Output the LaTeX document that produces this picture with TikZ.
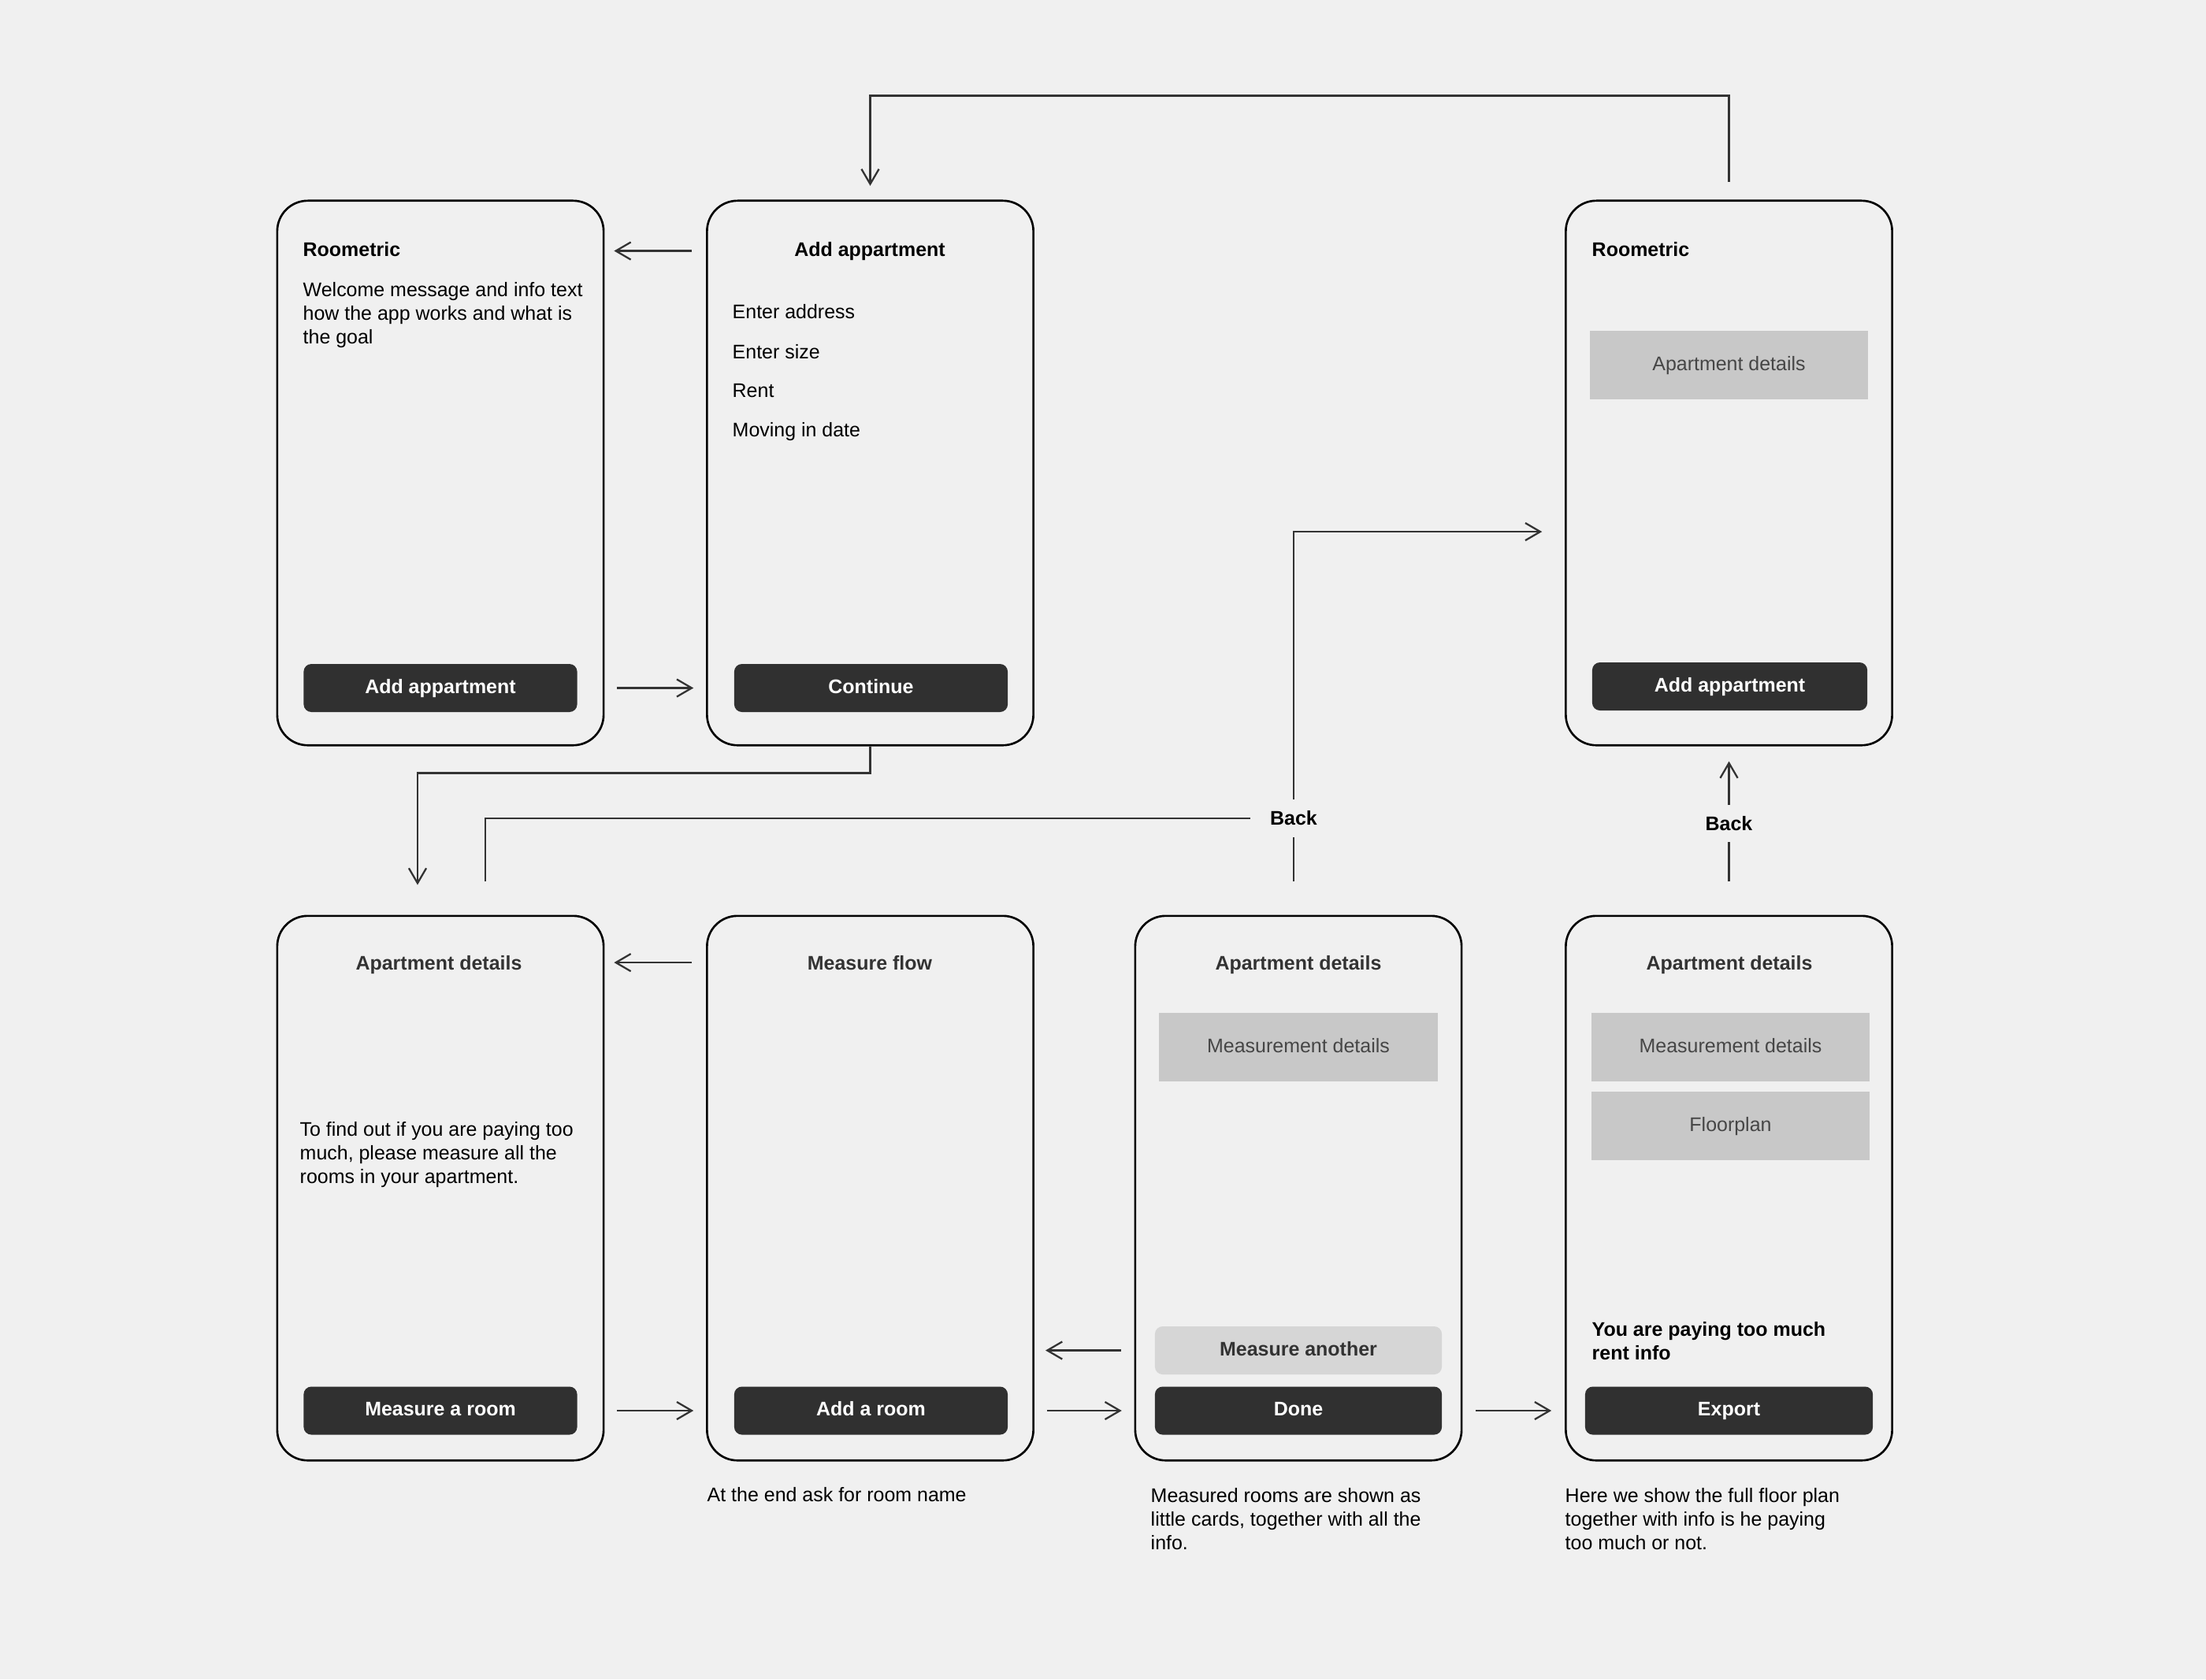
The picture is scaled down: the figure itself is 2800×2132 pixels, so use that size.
\documentclass[tikz,border=0pt]{standalone}
\usepackage{fontspec}
\setmainfont{Liberation Sans}
\usetikzlibrary{arrows.meta}
\definecolor{bg}{HTML}{F0F0F0}
\definecolor{ink}{HTML}{333333}
\definecolor{btn}{HTML}{303030}
\definecolor{card}{HTML}{C8C8C8}
\definecolor{soft}{HTML}{D6D6D6}
\definecolor{cardtext}{HTML}{464646}

\begin{document}
\begin{tikzpicture}[x=0.01cm,y=-0.01cm,
  every node/.style={inner sep=0pt,font=\fontsize{7.1}{8.5}\selectfont},
  phone/.style={draw=black,line width=0.75pt,rounded corners=11pt,minimum width=4.14cm,minimum height=6.91cm},
  hd/.style={font=\fontsize{7.1}{8.5}\selectfont\bfseries},
  btn/.style={fill=btn,text=white,rounded corners=2.8pt,minimum width=3.47cm,minimum height=0.61cm,
    text height=5.1pt,text depth=1.4pt,font=\fontsize{7.1}{8.5}\selectfont\bfseries},
  card/.style={fill=card,text=cardtext,minimum width=3.54cm,minimum height=0.87cm,text height=5.1pt,text depth=1.4pt},
  line/.style={draw=ink,line width=0.65pt},
  flow/.style={line,-{Straight Barb[length=5.4pt,width=6.3pt]}},
  back/.style={hd,inner xsep=7pt,inner ysep=4pt}]

\fill[bg] (0,0) rectangle (2800,2132);
\useasboundingbox (0,0) rectangle (2800,2132);

% top row
\node[phone] (A1) at (559,600.5) {};
\node[phone] (A2) at (1104.5,600.5) {};
\node[phone] (A3) at (2194.5,600.5) {};

\node[hd,anchor=base west] (A1t) at (384,325) {Roometric};
\node[anchor=base west,align=left] (A1x) at (384,436) {Welcome message and info text\\how the app works and what is\\the goal};
\node[btn] (A1b) at (559,873.5) {Add appartment};

\node[hd,anchor=base] (A2t) at (1104,325) {Add appartment};
\node[anchor=base west] (A2x1) at (929,404) {Enter address};
\node[anchor=base west] (A2x2) at (929,455) {Enter size};
\node[anchor=base west] (A2x3) at (929,504) {Rent};
\node[anchor=base west] (A2x4) at (929,554) {Moving in date};
\node[btn] (A2b) at (1105.5,873.5) {Continue};

\node[hd,anchor=base west] (A3t) at (2020,325) {Roometric};
\node[card,minimum width=3.53cm] (A3c) at (2194.5,463.5) {Apartment details};
\node[btn,minimum width=3.49cm] (A3b) at (2195.5,871.5) {Add appartment};

% bottom row
\node[phone] (B1) at (559,1508.5) {};
\node[phone] (B2) at (1104.5,1508.5) {};
\node[phone] (B3) at (1648,1508.5) {};
\node[phone] (B4) at (2194.5,1508.5) {};

\node[hd,text=ink,anchor=base] (B1t) at (557,1231) {Apartment details};
\node[anchor=base west,align=left] (B1x) at (380,1502) {To find out if you are paying too\\much, please measure all the\\rooms in your apartment.};
\node[btn] (B1b) at (559,1791) {Measure a room};

\node[hd,text=ink,anchor=base] (B2t) at (1104,1231) {Measure flow};
\node[btn] (B2b) at (1105.5,1791) {Add a room};
\node[anchor=base west] (B2n) at (897,1906) {At the end ask for room name};

\node[hd,text=ink,anchor=base] (B3t) at (1648,1231) {Apartment details};
\node[card] (B3c) at (1648,1329.5) {Measurement details};
\node[btn,fill=soft,text=ink,minimum width=3.64cm] (B3m) at (1648,1714.5) {Measure another};
\node[btn,minimum width=3.64cm] (B3b) at (1648,1791) {Done};
\node[anchor=base west,align=left] (B3n) at (1460,1967) {Measured rooms are shown as\\little cards, together with all the\\info.};

\node[hd,text=ink,anchor=base] (B4t) at (2195,1231) {Apartment details};
\node[card,minimum width=3.53cm] (B4c1) at (2196.5,1329.5) {Measurement details};
\node[card,minimum width=3.53cm] (B4c2) at (2196.5,1429.5) {Floorplan};
\node[hd,anchor=base west,align=left] (B4x) at (2020,1726) {You are paying too much\\rent info};
\node[btn,minimum width=3.65cm] (B4b) at (2194.5,1791) {Export};
\node[anchor=base west,align=left] (B4n) at (1986,1967) {Here we show the full floor plan\\together with info is he paying\\too much or not.};

% back labels
\node[back] (K1) at (1642,1039) {Back};
\node[back] (K2) at (2194.5,1045.5) {Back};
\coordinate (A3in) at ([yshift=-0.745cm]A3.west);

% arrows between screens
\draw[flow,shorten <=5pt,shorten >=3.4pt] (A2.west |- A2t) -- (A1.east |- A2t);
\draw[flow,shorten <=4.5pt,shorten >=4.5pt] (A1.east |- A1b) -- (A2.west |- A1b);
\draw[flow,shorten <=5pt,shorten >=3.4pt] (B2.west |- B2t) -- (B1.east |- B2t);
\draw[flow,shorten <=4.5pt,shorten >=4.5pt] (B1.east |- B1b) -- (B2.west |- B1b);
\draw[flow,shorten <=4.8pt,shorten >=4pt] (B3.west |- B3m) -- (B2.east |- B3m);
\draw[flow,shorten <=4.5pt,shorten >=4.5pt] (B2.east |- B2b) -- (B3.west |- B2b);
\draw[flow,shorten <=4.8pt,shorten >=4.8pt] (B3.east |- B3b) -- (B4.west |- B3b);

\draw[flow,shorten <=6.5pt,shorten >=5pt] (A3.north) -- ++(0,-132) -| (A2.north);
\draw[flow,shorten >=10.8pt] (A2.south) -- ++(0,34) -| ([xshift=-0.29cm]B1.north);

\draw[line,shorten <=12pt] ([xshift=0.57cm]B1.north) |- (K1);
\draw[line,shorten <=12pt] (B3.north -| K1) -- (K1);
\draw[flow,shorten >=8.2pt] (K1) |- (A3in);
\draw[line,shorten <=12pt] (B4.north -| K2) -- (K2);
\draw[flow,shorten >=5.4pt] (K2) -- (A3.south);
\end{tikzpicture}
\end{document}
